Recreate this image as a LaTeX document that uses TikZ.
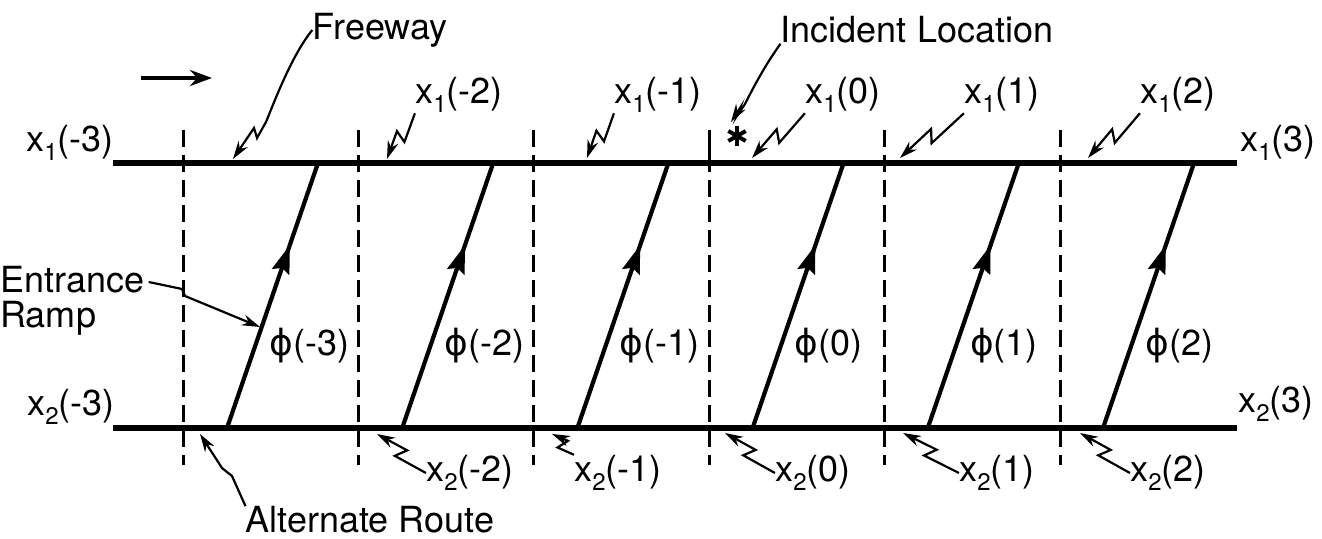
\documentclass[tikz,border=0pt]{standalone}
\usepackage{fontspec}
\setmainfont{TeX Gyre Heros}
\newfontfamily\phifont{DejaVu Sans}
\usetikzlibrary{arrows.meta,calc,decorations.markings}

\newcommand{\xlab}[2]{x\raisebox{-0.5ex}{\fontsize{12}{12}\selectfont #1}(#2)}
\newcommand{\phlab}[1]{{\phifont ϕ}(#1)}

\tikzset{
  road/.style={line width=2.6pt},
  ramp/.style={line width=2.1pt, postaction={decorate},
    decoration={markings, mark=at position 0.69 with {\arrow{Stealth[length=14pt,width=9pt,inset=2pt]}}}},
  cut/.style={line width=1.5pt, dash pattern=on 8.5pt off 4pt},
  lead/.style={line width=1.1pt, -{Stealth[length=9pt,width=5.5pt]}},
  lbl/.style={font=\fontsize{18}{19}\selectfont, inner sep=0pt},
  zap/.style={to path={-- ($(\tikztostart)!0.56!(\tikztotarget)!3pt!90:(\tikztotarget)$)
    -- ($(\tikztostart)!0.46!(\tikztotarget)!3pt!-90:(\tikztotarget)$) -- (\tikztotarget)}},
}

\begin{document}
\begin{tikzpicture}[x=0.5pt,y=-0.5pt]
\useasboundingbox (0,0) rectangle (1322,539);

% freeway and alternate route
\draw[road] (113,163) coordinate (fw0) -- (1237,163) coordinate (fw1);
\draw[road] (113,428) coordinate (ar0) -- (1237,428) coordinate (ar1);

% section boundaries
\foreach \k in {0,...,5}
  \draw[cut] (183+175.4*\k,130) -- (183+175.4*\k,465);
\draw[line width=1.5pt] (709,130) -- (709,163);

% entrance ramps
\foreach \i [count=\k from 0] in {-3,...,2} {
  \coordinate (b\k) at (227+175.2*\k,428);
  \coordinate (t\k) at (318+175.2*\k,163);
  \draw[ramp] (b\k) -- node[lbl, pos=0.31, anchor=west, xshift=6pt] (ph\k) {\phlab{\i}} (t\k);
}

% direction of travel
\coordinate (dir0) at (141,78);
\coordinate (dir1) at (212,78);
\draw[line width=2pt, -{Stealth[length=11pt,width=8pt]}] (dir0) -- (dir1);

% incident
\coordinate (star) at (737,136);
\foreach \a in {90,30,150}
  \draw[line width=2pt] (star) ++(\a:10) -- ++(\a+180:20);

% labels
\node[lbl] (fwy) at (380,30) {Freeway};
\node[lbl] (inc) at (917,30) {Incident Location};
\node[lbl, anchor=west] (ent1) at (0,280) {Entrance};
\node[lbl, anchor=west] (ent2) at (0,318) {Ramp};
\node[lbl] (alt) at (370,520) {Alternate Route};

\node[lbl] (x1m3) at (70,143) {\xlab{1}{-3}};
\node[lbl] (x1m2) at (459,95) {\xlab{1}{-2}};
\node[lbl] (x1m1) at (658,95) {\xlab{1}{-1}};
\node[lbl] (x10) at (843,95) {\xlab{1}{0}};
\node[lbl] (x11) at (1002,95) {\xlab{1}{1}};
\node[lbl] (x12) at (1178,95) {\xlab{1}{2}};
\node[lbl] (x13) at (1278,143) {\xlab{1}{3}};

\node[lbl] (x2m3) at (71,407) {\xlab{2}{-3}};
\node[lbl] (x2m2) at (470,473) {\xlab{2}{-2}};
\node[lbl] (x2m1) at (618,473) {\xlab{2}{-1}};
\node[lbl] (x20) at (813,473) {\xlab{2}{0}};
\node[lbl] (x21) at (997,473) {\xlab{2}{1}};
\node[lbl] (x22) at (1168,473) {\xlab{2}{2}};
\node[lbl] (x23) at (1276,404) {\xlab{2}{3}};

% points the leaders point at
\coordinate (fwyp) at (233,159);
\coordinate (p1m2) at (387,159);
\coordinate (p1m1) at (587,158);
\coordinate (incp) at (731,122);
\coordinate (p10) at (752,158);
\coordinate (p11) at (900,158);
\coordinate (p12) at (1088,158);
\coordinate (entp) at (260,327);
\coordinate (altp) at (200,434);
\coordinate (p2m2) at (377,434);
\coordinate (p2m1) at (552,434);
\coordinate (p20) at (725,433);
\coordinate (p21) at (903,433);
\coordinate (p22) at (1080,433);

% leaders
\draw[lead] (fwy.west) .. controls (292,55) and (275,100) .. (266,122)
  -- (257,138) -- (254,128) -- (fwyp);
\draw[lead] (inc.south west) .. controls (765,65) and (752,90) .. (745,104)
  -- (737,116) -- (740,108) -- (incp);
\draw[lead] (ent1.east) ++(4,2) -- (182,289) -- (185,296) -- (entp);
\draw[lead] (alt.north west) -- (232,476) -- (222,468) -- (altp);

\draw[lead] (x1m2.south west) to[zap] (p1m2);
\draw[lead] (x1m1.south west) to[zap] (p1m1);
\draw[lead] (x10.south west) to[zap] (p10);
\draw[lead] (x11.south west) to[zap] (p11);
\draw[lead] (x12.south west) to[zap] (p12);

\draw[lead] (x2m2.west) to[zap] (p2m2);
\draw[lead] (x2m1.north west) to[zap] (p2m1);
\draw[lead] (x20.west) to[zap] (p20);
\draw[lead] (x21.west) to[zap] (p21);
\draw[lead] (x22.west) to[zap] (p22);

\end{tikzpicture}
\end{document}
